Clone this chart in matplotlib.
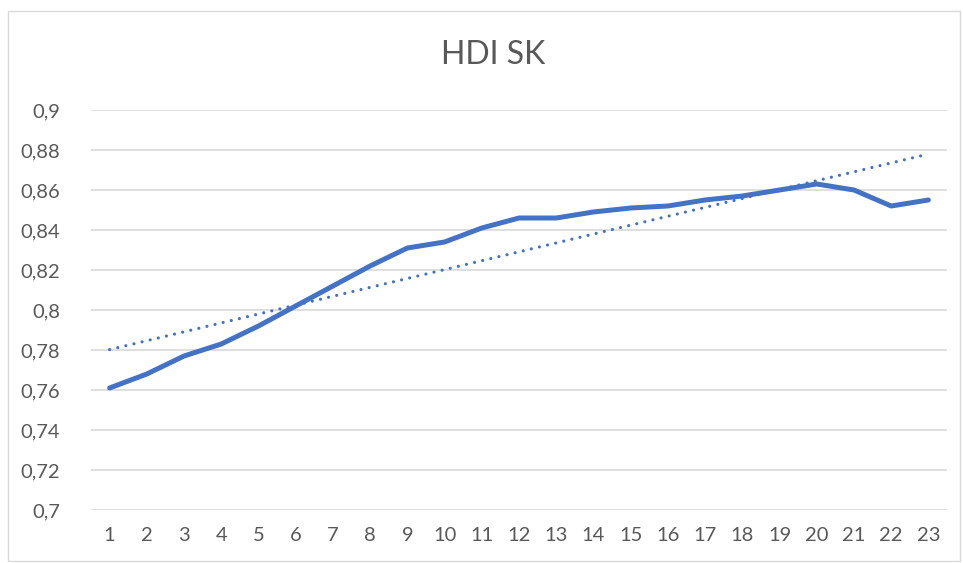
import numpy as np
import matplotlib
matplotlib.use('Agg')
import matplotlib.pyplot as plt
from matplotlib.patches import Rectangle

### data ###
years = list(range(1, 24))
hdi = [0.761, 0.768, 0.777, 0.783, 0.792, 0.802, 0.812, 0.822, 0.831, 0.834,
       0.841, 0.846, 0.846, 0.849, 0.851, 0.852, 0.855, 0.857, 0.860, 0.863,
       0.860, 0.852, 0.855]
yticks = [0.7, 0.72, 0.74, 0.76, 0.78, 0.8, 0.82, 0.84, 0.86, 0.88, 0.9]
title = 'HDI SK'

### style ###
blue = '#4472C4'
grey_txt = '#595959'
grey_line = '#D9D9D9'
plt.rcParams['font.family'] = ['Lato', 'DejaVu Sans']

fig = plt.figure(figsize=(9.63, 5.63), dpi=100)
ax = fig.add_axes([91/963, 1-510/563, (947-91)/963, 400/563])

# chart area border
fig.patches.append(Rectangle((8/963, 2/563), 952/963, 550/563, transform=fig.transFigure,
                             fill=False, edgecolor=grey_line, linewidth=1.0))

ax.plot(years, hdi, color=blue, linewidth=3.6, solid_capstyle='round', solid_joinstyle='round', zorder=3)

# linear trendline
x = np.array(years)
k, b = np.polyfit(x, hdi, 1)
ax.plot(x, k*x + b, color=blue, linewidth=2.3, linestyle=(0, (0.01, 2.6)),
        dash_capstyle='round', zorder=2)

ax.set_xlim(0.5, 23.5)
ax.set_ylim(0.7, 0.9)
ax.set_xticks(years)
ax.set_yticks(yticks)
ax.set_yticklabels([('%g' % v).replace('.', ',') for v in yticks])
ax.grid(axis='y', color=grey_line, linewidth=1.2)
ax.set_axisbelow(True)
for s in ax.spines.values():
    s.set_visible(False)
ax.tick_params(axis='both', length=0, labelsize=14.5, labelcolor=grey_txt)
ax.tick_params(axis='y', pad=22)
ax.tick_params(axis='x', pad=12)

fig.text(493/963, 1-55/563, title, ha='center', va='center', fontsize=23, color=grey_txt)

fig.savefig('out.png', dpi=100)
